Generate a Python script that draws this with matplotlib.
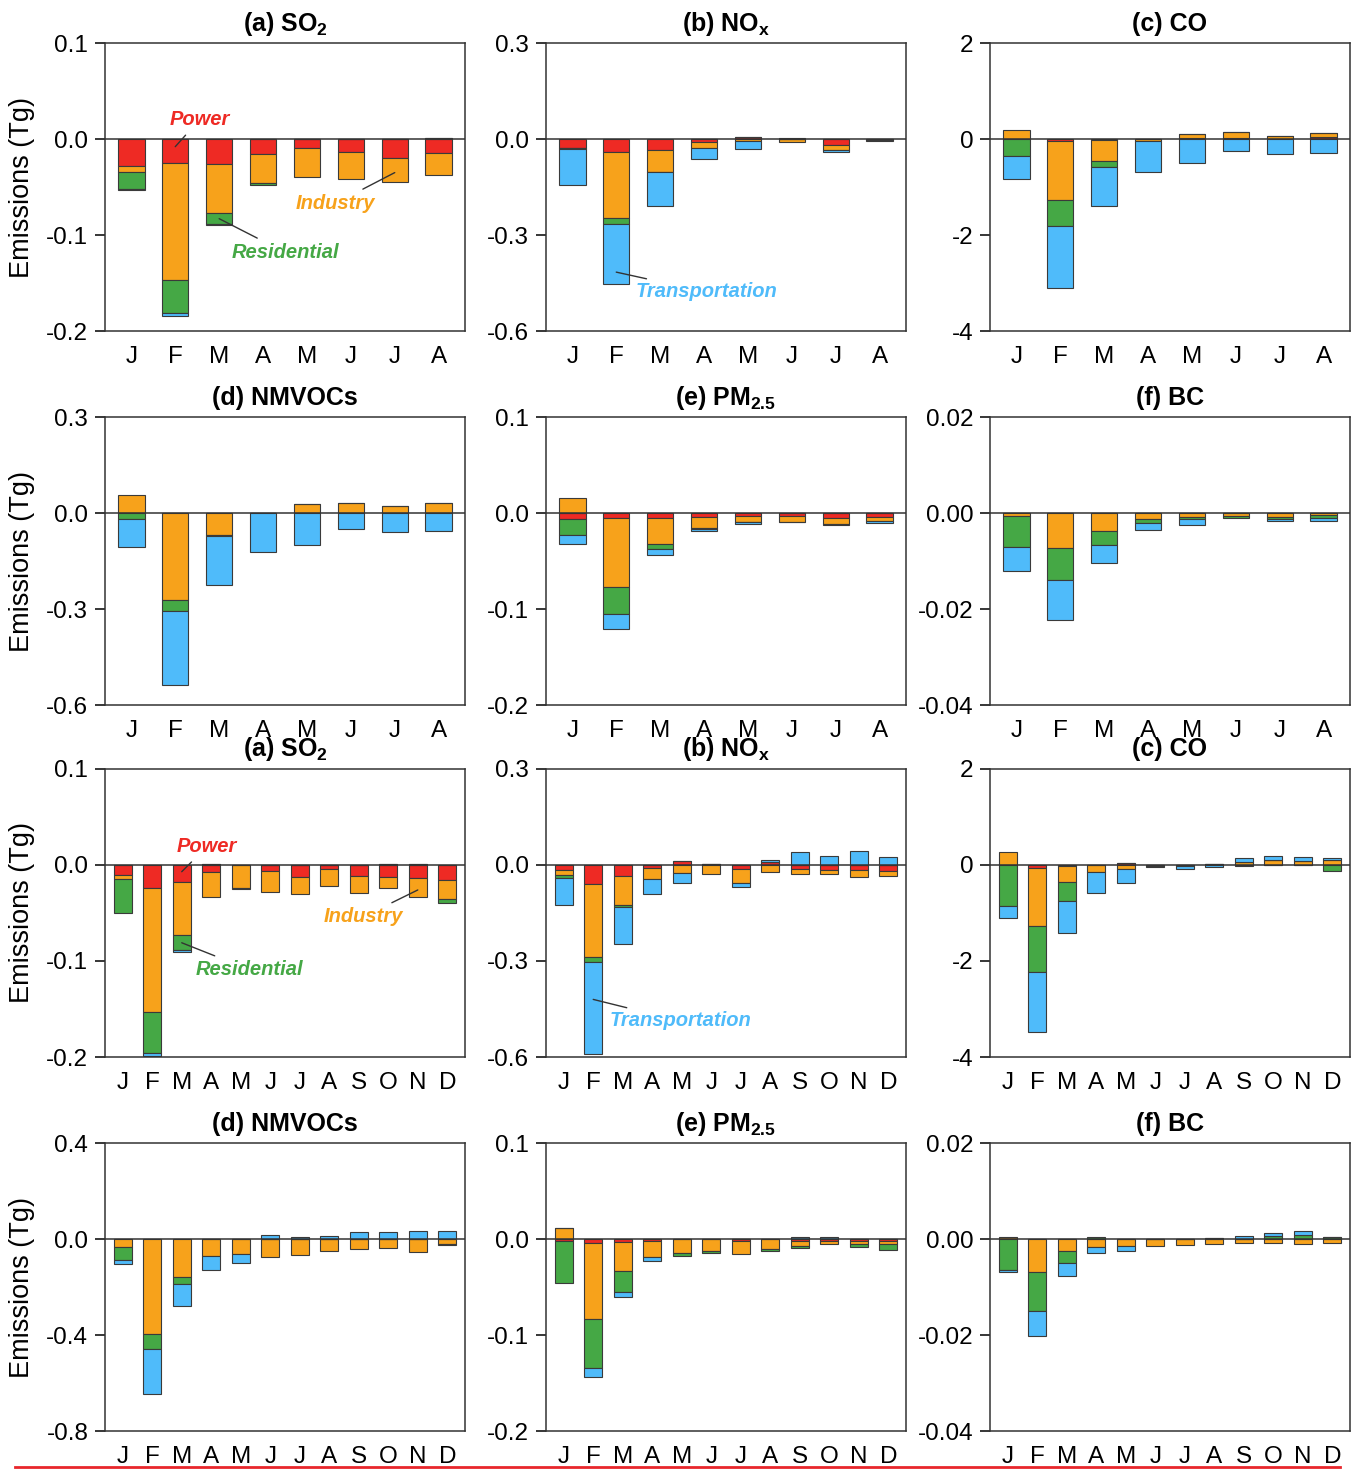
import matplotlib
matplotlib.use("Agg")
import matplotlib.pyplot as plt
from matplotlib.lines import Line2D
import numpy as np

plt.rcParams["font.family"] = ["Liberation Sans", "DejaVu Sans"]
plt.rcParams["axes.unicode_minus"] = False
plt.rcParams["mathtext.default"] = "regular"

SECTORS = ["Power", "Industry", "Residential", "Transportation"]
COLORS = ["#EE2A24", "#F7A21B", "#45A845", "#4FBBFA"]

months8 = ["J", "F", "M", "A", "M", "J", "J", "A"]
months12 = ["J", "F", "M", "A", "M", "J", "J", "A", "S", "O", "N", "D"]

# ---- Jan-Aug (8 months) ----
so2_8_power = [-0.0278, -0.0250, -0.0257, -0.0156, -0.0094, -0.0139, -0.0198, -0.0146]
so2_8_ind   = [-0.0066, -0.1215, -0.0514, -0.0302, -0.0302, -0.0274, -0.0253, -0.0233]
so2_8_res   = [-0.0177, -0.0347, -0.0115, -0.0024, 0.0005, 0.0005, 0.0003, 0.0012]
so2_8_tra   = [-0.0014, -0.0028, -0.0014, 0.0, 0.0, 0.0, 0.0, 0.0]

nox_8_power = [-0.028, -0.0406, -0.0333, -0.0094, 0.007, -0.001, -0.019, -0.002]
nox_8_ind   = [-0.001, -0.206, -0.0698, -0.0198, -0.006, -0.008, -0.0146, -0.005]
nox_8_res   = [-0.001, -0.0177, -0.001, 0.0, 0.0, 0.0, 0.0, 0.0]
nox_8_tra   = [-0.115, -0.1875, -0.105, -0.0333, -0.025, 0.003, -0.008, 0.0]

co_8_power = [-0.01, -0.05, -0.02, -0.01, 0.03, 0.03, 0.0, 0.035]
co_8_ind   = [0.194, -1.215, -0.44, -0.04, 0.07, 0.12, 0.07, 0.10]
co_8_res   = [-0.347, -0.549, -0.13, 0.0, 0.0, 0.0, 0.0, 0.0]
co_8_tra   = [-0.486, -1.285, -0.80, -0.63, -0.50, -0.25, -0.31, -0.29]

voc_8_power = [0.0, 0.0, 0.0, 0.0, 0.0, 0.0, 0.0, 0.0]
voc_8_ind   = [0.056, -0.272, -0.070, 0.0, 0.027, 0.030, 0.021, 0.030]
voc_8_res   = [-0.019, -0.034, -0.003, 0.0, 0.0, 0.0, 0.0, 0.0]
voc_8_tra   = [-0.0875, -0.231, -0.152, -0.123, -0.100, -0.050, -0.060, -0.056]

pm_8_power = [-0.0063, -0.0049, -0.0056, -0.0042, -0.0035, -0.0028, -0.0049, -0.0042]
pm_8_ind   = [0.0156, -0.0726, -0.0267, -0.0115, -0.0056, -0.0063, -0.0069, -0.0042]
pm_8_res   = [-0.0167, -0.0281, -0.0052, -0.0005, -0.0005, -0.0003, -0.0005, 0.0]
pm_8_tra   = [-0.0094, -0.0156, -0.0063, -0.0024, -0.0020, 0.0, 0.0, -0.0020]

bc_8_power = [0.0, 0.0, 0.0, 0.0, 0.0, 0.0, 0.0, 0.0]
bc_8_ind   = [-0.00056, -0.0073, -0.0038, -0.00125, -0.0008, -0.0006, -0.0008, -0.0004]
bc_8_res   = [-0.0066, -0.0066, -0.0028, -0.0009, -0.0004, -0.0005, -0.0004, -0.0006]
bc_8_tra   = [-0.0049, -0.0084, -0.0038, -0.0013, -0.00125, 0.0, -0.0004, -0.0006]

# ---- Jan-Dec (12 months) ----
so2_12_power = [-0.0101, -0.0240, -0.0177, -0.0073, 0.0, -0.0063, -0.0125, -0.0042,
                -0.0115, -0.0125, -0.0139, -0.0153]
so2_12_ind   = [-0.0042, -0.1288, -0.0549, -0.0257, -0.0240, -0.0215, -0.0177, -0.0174,
                -0.0174, -0.0118, -0.0194, -0.0201]
so2_12_res   = [-0.0361, -0.0431, -0.0163, 0.0014, -0.0005, 0.0, 0.0, 0.0,
                0.0, 0.0014, 0.0014, -0.0038]
so2_12_tra   = [0.0, -0.0028, -0.0017, 0.0, 0.0, 0.0, 0.0, 0.0,
                0.0, 0.0, 0.0, 0.0]

nox_12_power = [-0.0156, -0.0583, -0.0354, -0.0094, 0.014, 0.004, -0.0125, 0.0104,
                -0.0125, -0.0156, -0.0167, -0.0198]
nox_12_ind   = [-0.0156, -0.230, -0.0885, -0.0354, -0.026, -0.029, -0.0448, -0.023,
                -0.0156, -0.0125, -0.0208, -0.0135]
nox_12_res   = [-0.0094, -0.0146, -0.0073, 0.0, 0.0, 0.0, 0.0, 0.0,
                0.0, 0.0, 0.0, 0.0]
nox_12_tra   = [-0.0844, -0.2875, -0.1146, -0.0469, -0.030, 0.0, -0.0115, 0.005,
                0.0396, 0.029, 0.0437, 0.026]

co_12_power = [0.0, -0.069, -0.02, -0.01, 0.035, -0.02, 0.0, 0.03,
               -0.02, 0.0, 0.0, 0.0]
co_12_ind   = [0.278, -1.20, -0.333, -0.139, -0.083, 0.0, 0.0, 0.0,
               0.07, 0.10, 0.09, 0.097]
co_12_res   = [-0.861, -0.965, -0.403, 0.0, 0.0, -0.03, -0.03, 0.0,
               0.0, 0.0, 0.0, -0.125]
co_12_tra   = [-0.243, -1.25, -0.66, -0.43, -0.29, 0.0, -0.06, -0.05,
               0.08, 0.08, 0.076, 0.05]

voc_12_power = [0.0] * 12
voc_12_ind   = [-0.0333, -0.394, -0.157, -0.069, -0.0625, -0.074, -0.068, -0.050,
                -0.042, -0.0375, -0.053, -0.022]
voc_12_res   = [-0.054, -0.065, -0.029, 0.0, 0.0, 0.0, 0.0, 0.0,
                0.0, 0.0, 0.0, -0.003]
voc_12_tra   = [-0.018, -0.1875, -0.092, -0.060, -0.0375, 0.018, 0.008, 0.011,
                0.029, 0.029, 0.033, 0.033]

pm_12_power = [-0.0024, -0.0042, -0.0031, -0.0020, 0.0, 0.0, -0.0024, 0.0,
               -0.0020, -0.0017, -0.0017, -0.0020]
pm_12_ind   = [0.011, -0.079, -0.0306, -0.0167, -0.0149, -0.0125, -0.0135, -0.0108,
               -0.0052, -0.0035, -0.0040, -0.0030]
pm_12_res   = [-0.0434, -0.0507, -0.0219, 0.0, -0.0024, -0.0017, 0.0, -0.0014,
               -0.0017, 0.0, -0.0024, -0.0060]
pm_12_tra   = [0.0, -0.0097, -0.0049, -0.0038, 0.0, 0.0, 0.0, 0.0,
               0.0020, 0.0020, 0.0, 0.0]

bc_12_power = [0.0] * 12
bc_12_ind   = [0.0004, -0.0069, -0.0026, -0.0017, -0.0015, -0.0015, -0.0012, -0.0011,
               -0.0008, -0.0008, -0.0010, -0.0008]
bc_12_res   = [-0.0064, -0.0082, -0.0025, 0.0005, 0.0, 0.0, 0.0, 0.0003,
               0.0, 0.0007, 0.0009, 0.0005]
bc_12_tra   = [-0.0004, -0.0052, -0.0026, -0.0012, -0.0010, 0.0, 0.0, 0.0,
               0.0006, 0.0005, 0.0007, 0.0]

TITLES = ["(a) SO$_2$", "(b) NO$_x$", "(c) CO", "(d) NMVOCs", "(e) PM$_{2.5}$", "(f) BC"]
YLIMS = [(-0.2, 0.1), (-0.6, 0.3), (-4, 2), (-0.6, 0.3), (-0.2, 0.1), (-0.04, 0.02)]
YLIMS_12 = [(-0.2, 0.1), (-0.6, 0.3), (-4, 2), (-0.8, 0.4), (-0.2, 0.1), (-0.04, 0.02)]
YFMT = ["%.1f", "%.1f", "%d", "%.1f", "%.1f", "%.2f"]

panels_8 = [
    [so2_8_power, so2_8_ind, so2_8_res, so2_8_tra],
    [nox_8_power, nox_8_ind, nox_8_res, nox_8_tra],
    [co_8_power, co_8_ind, co_8_res, co_8_tra],
    [voc_8_power, voc_8_ind, voc_8_res, voc_8_tra],
    [pm_8_power, pm_8_ind, pm_8_res, pm_8_tra],
    [bc_8_power, bc_8_ind, bc_8_res, bc_8_tra],
]
panels_12 = [
    [so2_12_power, so2_12_ind, so2_12_res, so2_12_tra],
    [nox_12_power, nox_12_ind, nox_12_res, nox_12_tra],
    [co_12_power, co_12_ind, co_12_res, co_12_tra],
    [voc_12_power, voc_12_ind, voc_12_res, voc_12_tra],
    [pm_12_power, pm_12_ind, pm_12_res, pm_12_tra],
    [bc_12_power, bc_12_ind, bc_12_res, bc_12_tra],
]

W, H = 1360, 1469
fig = plt.figure(figsize=(W / 100, H / 100), dpi=100)

col_left = [105, 546, 990]
col_w = 360
row_top = [43, 417, 769, 1143]
row_h = 288


def stacked(ax, series, labels):
    x = np.arange(len(labels))
    pos = np.zeros(len(labels))
    neg = np.zeros(len(labels))
    for vals, color in zip(series, COLORS):
        v = np.asarray(vals, dtype=float)
        base = np.where(v >= 0, pos, neg)
        ax.bar(x, v, width=0.6, bottom=base, color=color,
               edgecolor="#3a3a3a", linewidth=0.8, zorder=2)
        pos += np.where(v >= 0, v, 0)
        neg += np.where(v < 0, v, 0)
    ax.axhline(0, color="#333333", lw=1.1, zorder=3)
    ax.set_xlim(-0.6, len(labels) - 0.4)
    ax.set_xticks(x)
    ax.set_xticklabels(labels, fontsize=17.5)
    ax.tick_params(axis="x", length=0, pad=11)
    ax.tick_params(axis="y", direction="out", length=7, width=1.1,
                   labelsize=17.5, pad=5)
    for sp in ax.spines.values():
        sp.set_color("#333333")
        sp.set_linewidth(1.1)


axes = {}
for r in range(4):
    for c in range(3):
        left = col_left[c] / W
        bottom = 1 - (row_top[r] + row_h) / H
        ax = fig.add_axes([left, bottom, col_w / W, row_h / H])
        k = (r % 2) * 3 + c
        if r < 2:
            stacked(ax, panels_8[k], months8)
            lo, hi = YLIMS[k]
        else:
            stacked(ax, panels_12[k], months12)
            lo, hi = YLIMS_12[k]
        ax.set_ylim(lo, hi)
        ticks = np.linspace(lo, hi, 4)
        ax.set_yticks(ticks)
        ax.set_yticklabels([YFMT[k] % t for t in ticks])
        ax.set_title(TITLES[k], fontsize=18, fontweight="bold", pad=9)
        if c == 0:
            ax.set_ylabel("Emissions (Tg)", fontsize=19.5)
            ax.yaxis.set_label_coords(-0.195, 0.5)
        axes[(r, c)] = ax

label_kw = dict(fontsize=14.5, fontweight="bold", fontstyle="italic",
                ha="center", va="center")
line_kw = dict(arrowstyle="-", color="#333333", lw=1.0, shrinkA=3, shrinkB=0)

# sector labels, Jan-Aug SO2 / NOx
ax = axes[(0, 0)]
ax.annotate("Power", xy=(1, -0.008), xytext=(1.55, 0.020), color=COLORS[0],
            arrowprops=line_kw, **label_kw)
ax.annotate("Industry", xy=(6, -0.035), xytext=(4.65, -0.067), color=COLORS[1],
            arrowprops=line_kw, **label_kw)
ax.annotate("Residential", xy=(2, -0.083), xytext=(3.5, -0.118), color=COLORS[2],
            arrowprops=line_kw, **label_kw)
axes[(0, 1)].annotate("Transportation", xy=(1, -0.416), xytext=(3.05, -0.478),
                      color=COLORS[3], arrowprops=line_kw, **label_kw)

# sector labels, Jan-Dec SO2 / NOx
ax = axes[(2, 0)]
ax.annotate("Power", xy=(2, -0.007), xytext=(2.85, 0.019), color=COLORS[0],
            arrowprops=line_kw, **label_kw)
ax.annotate("Industry", xy=(10, -0.026), xytext=(8.15, -0.054), color=COLORS[1],
            arrowprops=line_kw, **label_kw)
ax.annotate("Residential", xy=(2, -0.081), xytext=(4.3, -0.109), color=COLORS[2],
            arrowprops=line_kw, **label_kw)
axes[(2, 1)].annotate("Transportation", xy=(1, -0.42), xytext=(3.95, -0.4875),
                      color=COLORS[3], arrowprops=line_kw, **label_kw)

fig.add_artist(Line2D([15 / W, 1340 / W], [1 - 1467 / H, 1 - 1467 / H],
                      color="#E8262B", lw=2))

fig.savefig("out.png", dpi=100)
